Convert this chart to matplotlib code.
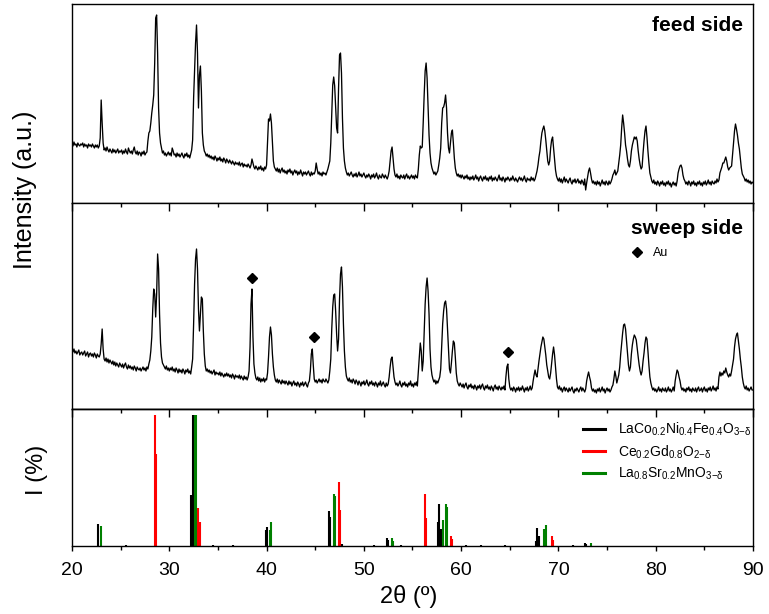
import numpy as np
import matplotlib
matplotlib.use('Agg')
import matplotlib.pyplot as plt
from matplotlib.lines import Line2D
from matplotlib.ticker import MultipleLocator

plt.rcParams['font.family'] = ['Liberation Sans', 'DejaVu Sans']
plt.rcParams['mathtext.fontset'] = 'custom'
plt.rcParams['mathtext.rm'] = 'Liberation Sans'
plt.rcParams['mathtext.it'] = 'Liberation Sans'
plt.rcParams['mathtext.bf'] = 'Liberation Sans:bold'

# ---------------- data ----------------
two_theta = np.round(np.linspace(20, 90, 701), 1)

feed_side = [
    60, 57, 61, 58, 59, 56, 60, 58, 57, 59,
    58, 60, 56, 59, 57, 58, 55, 59, 57, 58,
    56, 59, 57, 55, 58, 56, 58, 55, 57, 65,
    103, 80, 60, 53, 55, 52, 56, 53, 51, 54,
    52, 50, 54, 51, 53, 50, 52, 54, 50, 52,
    51, 53, 49, 52, 50, 54, 51, 49, 55, 52,
    50, 52, 49, 53, 56, 51, 49, 52, 48, 51,
    50, 47, 51, 49, 52, 48, 50, 51, 62, 70,
    72, 80, 90, 98, 108, 140, 185, 188, 150, 95,
    70, 60, 55, 50, 52, 48, 50, 47, 49, 51,
    48, 50, 47, 55, 52, 48, 49, 46, 50, 47,
    49, 46, 48, 50, 47, 45, 49, 47, 50, 46,
    48, 45, 49, 53, 63, 105, 132, 160, 178, 150,
    95, 128, 137, 112, 70, 58, 52, 50, 47, 49,
    46, 48, 45, 47, 44, 46, 43, 47, 45, 42,
    45, 43, 46, 42, 44, 41, 45, 43, 40, 44,
    42, 40, 43, 41, 39, 42, 40, 38, 41, 39,
    40, 38, 41, 37, 39, 40, 36, 39, 37, 38,
    36, 39, 37, 35, 38, 44, 40, 36, 34, 37,
    35, 33, 36, 34, 37, 33, 35, 32, 36, 34,
    38, 60, 84, 82, 89, 80, 60, 42, 36, 34,
    32, 35, 31, 34, 30, 33, 35, 31, 33, 30,
    32, 29, 33, 31, 34, 30, 32, 28, 31, 33,
    30, 32, 28, 31, 29, 33, 30, 27, 31, 29,
    31, 28, 30, 32, 29, 27, 31, 28, 30, 29,
    32, 40, 34, 29, 31, 28, 30, 27, 31, 29,
    30, 28, 31, 34, 38, 42, 60, 88, 118, 126,
    117, 95, 75, 70, 115, 148, 150, 130, 85, 55,
    42, 35, 31, 28, 30, 27, 29, 31, 28, 26,
    29, 27, 30, 26, 28, 31, 27, 29, 26, 28,
    30, 27, 25, 28, 26, 29, 27, 24, 28, 26,
    29, 25, 27, 30, 26, 24, 28, 26, 25, 29,
    27, 25, 28, 26, 24, 27, 32, 42, 52, 56,
    45, 34, 28, 26, 29, 25, 27, 24, 28, 26,
    25, 28, 24, 27, 29, 25, 27, 24, 26, 28,
    25, 27, 24, 28, 26, 25, 34, 48, 57, 55,
    56, 80, 108, 132, 140, 125, 95, 68, 50, 40,
    35, 32, 29, 31, 28, 30, 32, 38, 45, 55,
    80, 95, 96, 100, 108, 95, 70, 55, 50, 60,
    70, 73, 60, 45, 35, 30, 27, 29, 26, 28,
    25, 28, 26, 24, 27, 25, 28, 24, 26, 23,
    26, 24, 27, 23, 25, 28, 24, 26, 22, 25,
    27, 24, 22, 26, 24, 27, 23, 25, 22, 26,
    24, 27, 22, 25, 23, 26, 24, 22, 25, 28,
    23, 25, 22, 26, 24, 21, 25, 23, 26, 24,
    22, 25, 23, 27, 24, 22, 25, 23, 21, 24,
    26, 23, 25, 22, 24, 27, 23, 21, 25, 23,
    24, 22, 26, 23, 25, 22, 24, 28, 32, 38,
    46, 52, 62, 70, 74, 77, 72, 63, 52, 42,
    38, 42, 55, 63, 66, 55, 44, 33, 27, 24,
    22, 25, 21, 24, 20, 23, 26, 21, 24, 22,
    20, 23, 25, 21, 19, 23, 21, 24, 20, 22,
    24, 20, 22, 19, 23, 21, 18, 24, 13, 20,
    26, 32, 35, 30, 24, 20, 22, 19, 21, 18,
    22, 19, 21, 17, 20, 23, 19, 21, 18, 22,
    20, 18, 22, 19, 21, 24, 28, 30, 33, 28,
    30, 32, 40, 48, 58, 75, 88, 80, 70, 58,
    52, 44, 38, 36, 42, 52, 58, 62, 66, 64,
    66, 62, 52, 44, 38, 34, 36, 50, 62, 72,
    77, 66, 52, 40, 30, 26, 22, 20, 23, 19,
    21, 18, 22, 20, 17, 21, 19, 22, 18, 20,
    17, 21, 19, 22, 18, 20, 16, 19, 21, 18,
    20, 17, 22, 30, 34, 37, 38, 35, 28, 24,
    22, 19, 21, 18, 22, 20, 17, 21, 19, 22,
    18, 20, 17, 21, 19, 22, 18, 20, 17, 21,
    19, 22, 18, 20, 23, 19, 21, 18, 22, 20,
    19, 22, 20, 24, 21, 23, 30, 33, 36, 40,
    40, 43, 46, 42, 36, 33, 35, 36, 37, 48,
    60, 72, 79, 74, 68, 60, 54, 44, 35, 29,
    27, 25, 22, 24, 21, 23, 20, 22, 19, 21,
    20,
]

sweep_side = [
    59, 57, 60, 56, 58, 55, 57, 59, 54, 56,
    57, 54, 56, 58, 53, 55, 57, 52, 55, 56,
    53, 55, 52, 56, 54, 51, 55, 53, 52, 55,
    65, 80, 60, 50, 48, 51, 47, 50, 46, 49,
    47, 45, 48, 44, 47, 43, 46, 44, 42, 46,
    44, 42, 45, 41, 44, 46, 42, 40, 44, 41,
    43, 40, 42, 39, 43, 41, 38, 42, 40, 39,
    41, 38, 40, 42, 39, 41, 38, 42, 40, 45,
    49, 58, 72, 100, 120, 115, 92, 115, 155, 140,
    95, 66, 52, 46, 44, 42, 40, 43, 39, 41,
    38, 41, 39, 42, 38, 40, 37, 41, 39, 36,
    40, 37, 39, 36, 40, 38, 35, 39, 37, 40,
    36, 38, 35, 42, 50, 85, 125, 150, 160, 140,
    100, 78, 95, 112, 110, 78, 55, 43, 38, 40,
    37, 39, 36, 38, 35, 37, 39, 34, 37, 35,
    36, 34, 37, 33, 36, 34, 32, 35, 33, 36,
    33, 35, 32, 34, 31, 35, 33, 30, 34, 32,
    33, 31, 34, 30, 33, 31, 29, 33, 30, 32,
    29, 32, 38, 62, 105, 120, 72, 45, 36, 31,
    29, 32, 28, 31, 27, 30, 28, 31, 27, 30,
    29, 36, 52, 72, 82, 74, 55, 42, 34, 29,
    27, 30, 26, 29, 27, 25, 29, 26, 28, 25,
    28, 26, 24, 28, 25, 27, 23, 26, 28, 24,
    26, 23, 27, 25, 22, 26, 24, 27, 23, 25,
    27, 24, 22, 26, 28, 38, 55, 60, 44, 30,
    27, 29, 26, 28, 30, 27, 29, 26, 30, 28,
    27, 30, 28, 26, 29, 38, 50, 80, 102, 114,
    115, 98, 75, 58, 70, 110, 135, 142, 122, 85,
    58, 42, 33, 30, 28, 31, 27, 29, 26, 30,
    28, 25, 29, 27, 24, 28, 26, 23, 27, 25,
    28, 24, 26, 29, 25, 23, 27, 25, 28, 24,
    26, 23, 27, 25, 22, 26, 24, 28, 23, 25,
    27, 24, 22, 26, 23, 25, 32, 42, 50, 52,
    42, 32, 27, 24, 26, 23, 25, 28, 24, 22,
    26, 24, 27, 23, 25, 22, 26, 24, 28, 23,
    25, 22, 26, 24, 27, 23, 38, 52, 66, 58,
    38, 48, 75, 105, 122, 131, 118, 95, 60, 42,
    34, 30, 27, 29, 25, 28, 26, 29, 32, 40,
    62, 85, 98, 106, 108, 100, 80, 58, 40, 36,
    46, 58, 68, 66, 52, 36, 28, 25, 23, 26,
    24, 22, 25, 21, 24, 26, 22, 20, 24, 22,
    25, 21, 23, 20, 24, 22, 19, 23, 21, 24,
    20, 23, 25, 21, 19, 23, 21, 24, 20, 22,
    19, 23, 21, 18, 22, 24, 20, 22, 19, 23,
    21, 19, 22, 20, 23, 19, 32, 42, 45, 30,
    22, 19, 21, 18, 22, 20, 17, 21, 19, 22,
    18, 21, 19, 23, 20, 17, 21, 19, 22, 18,
    20, 23, 19, 21, 28, 34, 39, 34, 32, 40,
    48, 55, 62, 67, 72, 70, 62, 54, 44, 38,
    32, 30, 36, 46, 55, 62, 54, 42, 30, 22,
    20, 23, 19, 21, 17, 20, 22, 18, 21, 19,
    17, 21, 18, 20, 22, 18, 16, 20, 18, 21,
    19, 17, 20, 22, 18, 21, 19, 17, 20, 28,
    33, 37, 32, 28, 21, 18, 20, 17, 19, 16,
    20, 18, 21, 17, 19, 22, 18, 20, 16, 19,
    21, 18, 20, 17, 19, 22, 24, 30, 38, 33,
    26, 30, 34, 42, 55, 66, 76, 84, 85, 80,
    68, 56, 44, 38, 42, 55, 64, 70, 74, 72,
    69, 60, 52, 44, 38, 34, 38, 48, 56, 66,
    72, 70, 58, 44, 32, 26, 22, 19, 21, 18,
    20, 17, 19, 22, 18, 20, 17, 21, 19, 18,
    21, 17, 19, 22, 18, 20, 17, 19, 22, 18,
    28, 34, 39, 37, 32, 28, 22, 19, 21, 18,
    20, 17, 21, 19, 22, 18, 20, 17, 21, 19,
    18, 21, 17, 20, 22, 18, 19, 21, 17, 20,
    22, 18, 20, 17, 21, 19, 22, 18, 20, 23,
    19, 21, 18, 22, 20, 32, 37, 33, 36, 34,
    38, 36, 41, 37, 34, 32, 35, 33, 38, 44,
    50, 62, 70, 74, 76, 68, 60, 50, 42, 32,
    26, 22, 20, 23, 19, 21, 18, 20, 22, 19,
    19,
]

au_pos = [38.47, 44.87, 64.78]
au_height = [131, 72, 57]

lcnf_pos = [22.7, 25.5, 32.28, 32.4, 32.5, 34.5, 36.5, 39.95, 40.03, 46.45, 46.55,
            47.8, 51.0, 52.35, 52.45, 53.8, 57.6, 57.75, 57.95, 60.5, 62.0, 64.5,
            67.65, 67.83, 67.98, 71.5, 72.7, 72.8]
lcnf_int = [17, 0.6, 39, 100, 100, 0.7, 0.5, 12.5, 14.8, 26.8, 22,
            1.5, 0.5, 5.9, 4.5, 0.8, 18, 32, 13, 0.5, 0.5, 0.5,
            4, 13.5, 8, 0.5, 2.5, 1.5]
cgo_pos = [28.5, 28.62, 32.98, 33.12, 47.42, 47.55, 56.25, 56.35, 59.0, 59.1, 69.3, 69.4]
cgo_int = [100, 70, 29, 18.6, 49, 27.6, 40, 21, 7.7, 5, 7.7, 4.5]
lsm_pos = [22.95, 32.65, 32.78, 40.32, 40.42, 46.95, 47.05, 52.85, 52.95,
           58.15, 58.4, 58.52, 68.55, 68.68, 73.35]
lsm_int = [15, 100, 100, 12, 18.6, 40, 38, 5.9, 4, 20, 32, 30, 13, 16, 2.5]

phase_labels = [r'LaCo$_{0.2}$Ni$_{0.4}$Fe$_{0.4}$O$_{3\mathrm{-\delta}}$',
                r'Ce$_{0.2}$Gd$_{0.8}$O$_{2\mathrm{-\delta}}$',
                r'La$_{0.8}$Sr$_{0.2}$MnO$_{3\mathrm{-\delta}}$']
phase_colors = ['black', '#ff0000', '#008000']

# ---------------- figure ----------------
W, H = 769, 614
fig = plt.figure(figsize=(W / 100, H / 100), dpi=100)
L = 72 / W
AW = (753 - 72) / W
ax1 = fig.add_axes([L, 1 - 203 / H, AW, (203 - 4.5) / H])
ax2 = fig.add_axes([L, 1 - 409 / H, AW, (409 - 203) / H])
ax3 = fig.add_axes([L, 1 - 546 / H, AW, (546 - 409) / H])

for ax in (ax1, ax2, ax3):
    ax.set_xlim(20, 90)
    for s in ax.spines.values():
        s.set_linewidth(1.0)
    ax.set_yticks([])
    ax.xaxis.set_major_locator(MultipleLocator(10))
    ax.xaxis.set_minor_locator(MultipleLocator(5))

ax1.plot(two_theta, feed_side, color='black', lw=0.95)
ax1.set_ylim(0, 198.5)
ax1.tick_params(axis='x', which='both', bottom=False, top=False, labelbottom=False)
ax1.text(0.985, 0.865, 'feed side', transform=ax1.transAxes, ha='right',
         va='baseline', fontsize=15, fontweight='bold')

ax2.plot(two_theta, sweep_side, color='black', lw=0.95)
ax2.plot(au_pos, au_height, linestyle='none', marker='D', ms=5.5, color='black')
ax2.set_ylim(0, 206)
ax2.tick_params(axis='x', which='both', bottom=False, top=True, labelbottom=False,
                direction='in', width=1.0)
ax2.tick_params(axis='x', which='major', length=6)
ax2.tick_params(axis='x', which='minor', length=3)
ax2.text(0.985, 0.85, 'sweep side', transform=ax2.transAxes, ha='right',
         va='baseline', fontsize=15, fontweight='bold')
ax2.legend([Line2D([], [], linestyle='none', marker='D', ms=5.5, color='black')], ['Au'],
           loc='upper left', bbox_to_anchor=((631 - 72) / 681, (409 - 247) / 206),
           frameon=False, fontsize=9, handlelength=1.0, handletextpad=0.75,
           borderpad=0, borderaxespad=0)

for pos, inten, col in ((lcnf_pos, lcnf_int, phase_colors[0]),
                        (cgo_pos, cgo_int, phase_colors[1]),
                        (lsm_pos, lsm_int, phase_colors[2])):
    ax3.vlines(pos, 0, inten, colors=col, lw=1.5)
ax3.set_ylim(0, 104.6)
ax3.tick_params(axis='x', which='both', direction='out', width=1.0, labelsize=14, pad=8)
ax3.tick_params(axis='x', which='major', length=3.6)
ax3.tick_params(axis='x', which='minor', length=3.2)
sec = ax3.secondary_xaxis('top')
sec.xaxis.set_major_locator(MultipleLocator(10))
sec.xaxis.set_minor_locator(MultipleLocator(5))
sec.tick_params(axis='x', which='both', direction='in', labeltop=False, width=1.0)
sec.tick_params(axis='x', which='major', length=6)
sec.tick_params(axis='x', which='minor', length=3)
sec.spines['top'].set_linewidth(1.0)

handles = [Line2D([], [], color=c, lw=2.2) for c in phase_colors]
ax3.legend(handles, phase_labels, loc='upper left',
           bbox_to_anchor=((583 - 72) / 681, (546 - 421) / 137),
           frameon=False, fontsize=10, handlelength=1.6, handletextpad=0.9,
           labelspacing=0.35, borderpad=0, borderaxespad=0)

fig.text(408.5 / W, 1 - 603 / H, '2θ (º)', ha='center', va='baseline', fontsize=17)
fig.text(25.5 / W, 1 - 190 / H, 'Intensity (a.u.)', rotation=90, ha='center',
         va='center', fontsize=18)
fig.text(37 / W, 1 - 470 / H, 'I (%)', rotation=90, ha='center', va='center', fontsize=17)

fig.savefig('out.png', dpi=100)
